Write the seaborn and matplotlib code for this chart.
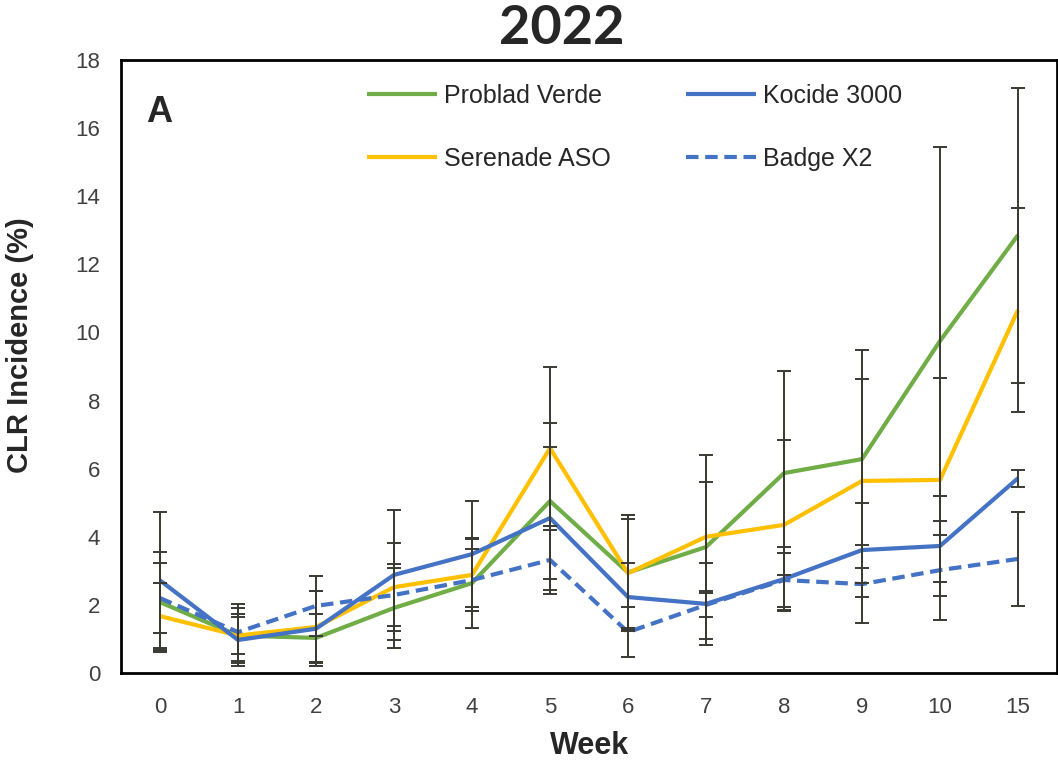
import numpy as np
import pandas as pd
import matplotlib
matplotlib.use("Agg")
import matplotlib.pyplot as plt
import seaborn as sns

sns.set_style("white")
plt.rcParams["font.family"] = ["Liberation Sans", "DejaVu Sans"]

# ---------------------------------------------------
# Data
# ---------------------------------------------------
weeks = ["0", "1", "2", "3", "4", "5", "6", "7", "8", "9", "10", "15"]

problad_mean = [2.08, 1.10, 1.03, 1.91, 2.64, 5.05, 2.95, 3.70, 5.87, 6.28, 9.75, 12.86]
problad_err = [1.47, 0.80, 0.70, 1.18, 1.32, 2.30, 1.70, 2.70, 3.00, 3.20, 5.70, 4.33]

kocide_mean = [2.72, 0.97, 1.30, 2.88, 3.49, 4.55, 2.23, 2.03, 2.76, 3.61, 3.73, 5.72]
kocide_err = [2.00, 0.75, 1.10, 1.91, 1.56, 2.10, 1.00, 1.20, 0.93, 1.37, 1.46, 0.25]

serenade_mean = [1.67, 1.10, 1.35, 2.52, 2.88, 6.60, 2.93, 4.00, 4.35, 5.64, 5.67, 10.66]
serenade_err = [0.98, 0.55, 1.05, 1.30, 1.05, 2.40, 1.60, 1.60, 2.50, 3.00, 3.00, 3.00]

badge_mean = [2.20, 1.20, 1.97, 2.29, 2.73, 3.32, 1.20, 2.00, 2.73, 2.61, 3.02, 3.35]
badge_err = [1.03, 0.84, 0.88, 0.92, 0.90, 1.00, 0.73, 0.35, 0.80, 1.15, 1.45, 1.37]

treatments = ["Problad Verde", "Serenade ASO", "Kocide 3000", "Badge X2"]
means = [problad_mean, serenade_mean, kocide_mean, badge_mean]
errs = [problad_err, serenade_err, kocide_err, badge_err]
colors = ["#70AD47", "#FFC000", "#4472C4", "#4472C4"]
dashes = [(1, 0), (1, 0), (1, 0), (3, 1.6)]

pos = np.arange(len(weeks))
rows = []
for name, m, e in zip(treatments, means, errs):
    for p, v, s in zip(pos, m, e):
        rows.append({"pos": p, "value": v, "err": s, "treatment": name})
df = pd.DataFrame(rows)

# ---------------------------------------------------
# Plot
# ---------------------------------------------------
fig = plt.figure(figsize=(10.58, 7.64), dpi=100)
ax = fig.add_axes([121 / 1058, 91 / 764, 936 / 1058, 613 / 764])

# error bars
for name in treatments:
    sub = df[df["treatment"] == name]
    ax.errorbar(sub["pos"], sub["value"], yerr=sub["err"], fmt="none",
                ecolor="#3a3a33", elinewidth=1.4, capsize=5, capthick=1.4,
                zorder=3)

sns.lineplot(data=df, x="pos", y="value", hue="treatment", style="treatment",
             hue_order=treatments, style_order=treatments,
             palette=dict(zip(treatments, colors)),
             dashes=dict(zip(treatments, dashes)),
             linewidth=3.0, errorbar=None, ax=ax, zorder=2)

ax.set_xlim(-0.5, 11.5)
ax.set_ylim(0, 18)
ax.set_yticks(range(0, 19, 2))
ax.set_xticks(pos)
ax.set_xticklabels(weeks)
ax.tick_params(axis="both", labelsize=16, labelcolor="#404040", length=0)
ax.tick_params(axis="x", pad=17)
ax.tick_params(axis="y", pad=15)

ax.set_xlabel("Week", fontsize=22, fontweight="bold")
ax.set_ylabel("CLR Incidence (%)", fontsize=21, fontweight="bold")
ax.xaxis.set_label_coords((590 - 121) / 936, (673 - 731) / 613)
ax.yaxis.set_label_coords((34 - 121) / 936, (673 - 345) / 613)

for sp in ax.spines.values():
    sp.set_visible(True)
    sp.set_color("black")
    sp.set_linewidth(2)

ax.text(0.027, 0.915, "A", transform=ax.transAxes, fontsize=26,
        fontweight="bold", ha="left", va="center")

handles, labels = ax.get_legend_handles_labels()
for h in handles:
    h.set_linewidth(3.0)
ax.legend(handles, labels, ncol=2, loc="upper left",
          bbox_to_anchor=((354 - 121) / 936, 0.981), frameon=False,
          fontsize=18, borderpad=0, handlelength=2.8, handletextpad=0.3,
          columnspacing=3.0, labelspacing=1.55)

fig.text(562 / 1058, 1 - 28 / 764, "2022", fontsize=39, fontweight="bold",
         family=["Lato", "DejaVu Sans"], ha="center", va="center")

fig.savefig("out.png", dpi=100)
